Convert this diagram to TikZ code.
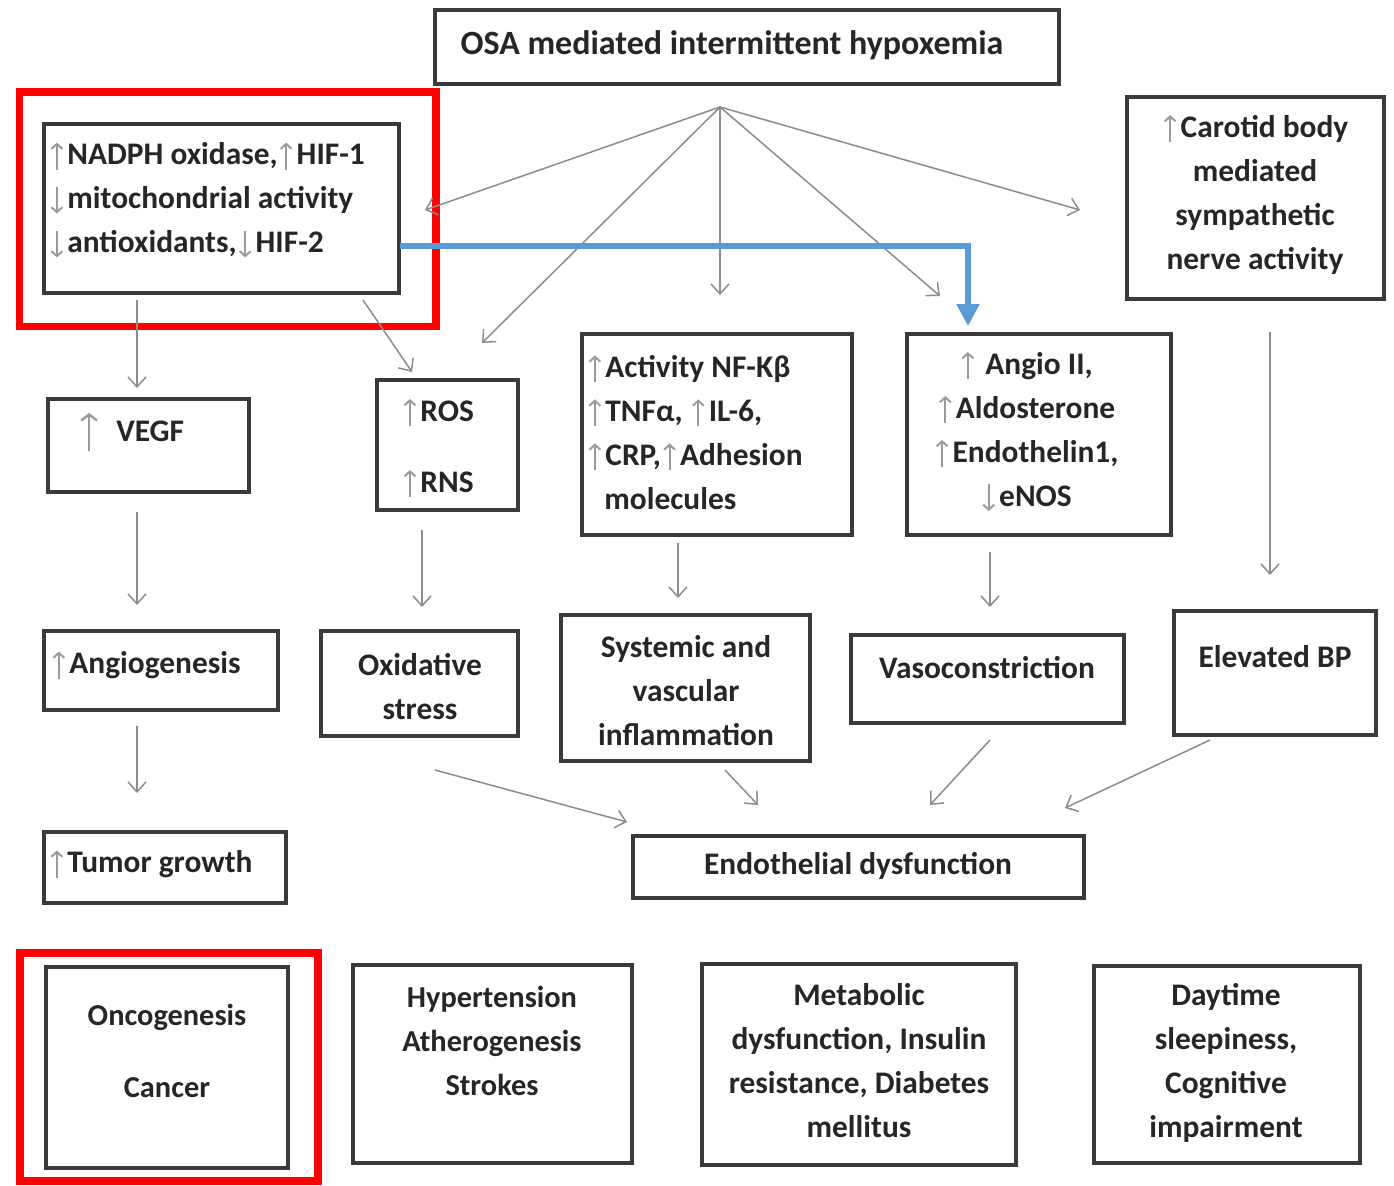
\documentclass[tikz,border=0pt]{standalone}
\usepackage{fontspec}
\setmainfont{Carlito}
\usetikzlibrary{arrows.meta}
\definecolor{boxc}{HTML}{3A3A3A}
\definecolor{txtc}{HTML}{262626}
\definecolor{arrc}{HTML}{8C8C8C}
\definecolor{glyc}{HTML}{9A9A9A}
\definecolor{bluec}{HTML}{5B9BD5}
\newcommand\up{\hspace{1pt}\tikz[baseline=0pt]\draw[draw=glyc,line width=1pt,-{Straight Barb[length=2.5pt,width=5.5pt]}](0,-2.5pt)--(0,11pt);\hspace{2pt}}
\newcommand\dn{\hspace{1pt}\tikz[baseline=0pt]\draw[draw=glyc,line width=1pt,-{Straight Barb[length=2.5pt,width=5.5pt]}](0,11pt)--(0,-2.5pt);\hspace{2pt}}
\newcommand\bigup{\hspace{1pt}\tikz[baseline=0pt]\draw[draw=glyc,line width=1.2pt,-{Straight Barb[length=3pt,width=8pt]}](0,-5pt)--(0,14pt);\hspace{2pt}}
\tikzset{
  box/.style={draw=boxc,line width=2.2pt,rectangle,inner sep=0pt},
  redbox/.style={draw=red,line width=3.8pt,rectangle,inner sep=0pt},
  txt/.style={font=\fontsize{15.7}{22}\selectfont\bfseries,text=txtc,inner sep=0pt,align=center},
  txtr/.style={font=\fontsize{15.2}{22}\selectfont\bfseries,text=txtc,inner sep=0pt,align=center},
  conn/.style={draw=arrc,line width=0.75pt,-{Straight Barb[length=5pt,width=9pt]}},
  blueconn/.style={draw=bluec,line width=2.6pt,-{Triangle[length=11pt,width=11pt]}}
}
\begin{document}
\begin{tikzpicture}[x=0.5pt,y=-0.5pt]
\useasboundingbox (0,0) rectangle (1394,1185);
% red highlight frames
\node[redbox,minimum width=208.25pt,minimum height=117.25pt] (red1) at (227.75,209.25) {};
\node[redbox,minimum width=149pt,minimum height=114pt] (red2) at (169,1067) {};
% boxes
\node[box,minimum width=312pt,minimum height=37pt] (osa) at (747,47) {};
\node[box,minimum width=177.5pt,minimum height=84.5pt] (nadph) at (221.5,208.5) {};
\node[box,minimum width=128.5pt,minimum height=101pt] (carotid) at (1255.5,198) {};
\node[box,minimum width=100.5pt,minimum height=46.5pt] (vegf) at (148.5,445.5) {};
\node[box,minimum width=70.5pt,minimum height=65pt] (ros) at (447.5,445) {};
\node[box,minimum width=135pt,minimum height=100.5pt] (nfkb) at (717,434.5) {};
\node[box,minimum width=132pt,minimum height=100.5pt] (angio) at (1039,434.5) {};
\node[box,minimum width=117pt,minimum height=39.5pt] (angiog) at (161,670.5) {};
\node[box,minimum width=98.5pt,minimum height=52.5pt] (oxid) at (419.5,683.5) {};
\node[box,minimum width=124.5pt,minimum height=73pt] (syst) at (685.5,688) {};
\node[box,minimum width=136.5pt,minimum height=44pt] (vaso) at (987.5,679) {};
\node[box,minimum width=101pt,minimum height=62pt] (bp) at (1275,673) {};
\node[box,minimum width=121pt,minimum height=35.5pt] (tumor) at (165,867.5) {};
\node[box,minimum width=225.5pt,minimum height=31pt] (endo) at (858.5,867) {};
\node[box,minimum width=121pt,minimum height=100.5pt] (onco) at (167,1067.5) {};
\node[box,minimum width=139.5pt,minimum height=99pt] (hyper) at (492.5,1064) {};
\node[box,minimum width=157pt,minimum height=100.5pt] (metab) at (859,1064.5) {};
\node[box,minimum width=133pt,minimum height=98.5pt] (day) at (1227,1064.5) {};
% texts
\node[txt,font=\fontsize{17}{22}\selectfont\bfseries] (osa-t) at (732,45) {OSA mediated intermittent hypoxemia};
\node[txt,anchor=west,align=left] (nadph-t) at (48,200) {\up NADPH oxidase,\up HIF-1\\\dn mitochondrial activity\\\dn antioxidants,\dn HIF-2};
\node[txt] (carotid-t) at (1255,194) {\up Carotid body\\mediated\\sympathetic\\nerve activity};
\node[txt] (vegf-t) at (131,432) {\bigup\hspace{7pt}VEGF};
\node[txt,anchor=west,align=left] (ros-t) at (401,448) {\up ROS\\[13.5pt]\up RNS};
\node[txt,anchor=west,align=left] (nfkb-t) at (586,432) {\up Activity NF-Kβ\\\up TNFα, \up IL-6,\\\up CRP,\up Adhesion\\\hspace{9pt}molecules};
\node[txt] (angio-t) at (1026,431.5) {\up\ Angio II,\\\up Aldosterone\\\up Endothelin1,\\\dn eNOS};
\node[txt,anchor=west] (angiog-t) at (50,665) {\up Angiogenesis};
\node[txt] (oxid-t) at (420,687) {Oxidative\\stress};
\node[txt] (syst-t) at (686,691) {Systemic and\\vascular\\inflammation};
\node[txt] (vaso-t) at (987,668) {Vasoconstriction};
\node[txt] (bp-t) at (1275,657) {Elevated BP};
\node[txt,anchor=west] (tumor-t) at (48,864) {\up Tumor growth};
\node[txt] (endo-t) at (858,866) {Endothelial dysfunction};
\node[txtr] (onco-t) at (167,1051) {Oncogenesis\\[14pt]Cancer};
\node[txtr] (hyper-t) at (492,1041) {Hypertension\\Atherogenesis\\Strokes};
\node[txt] (metab-t) at (859,1061) {Metabolic\\dysfunction, Insulin\\resistance, Diabetes\\mellitus};
\node[txt] (day-t) at (1226,1063) {Daytime\\sleepiness,\\Cognitive\\impairment};
% connector ends
\coordinate (hub) at (720,107);
\coordinate (h1) at (425,210);
\coordinate (h2) at (482,343);
\coordinate (h3) at (720,295);
\coordinate (h4) at (940,296);
\coordinate (h5) at (1080,210);
\coordinate (n1) at (137,300); \coordinate (v0) at (137,388);
\coordinate (n2) at (363,300); \coordinate (r0) at (412,372);
\coordinate (v1) at (137,512); \coordinate (ag0) at (137,605);
\coordinate (ag1) at (137,726); \coordinate (tu0) at (137,793);
\coordinate (r1) at (422,530); \coordinate (ox0) at (422,607);
\coordinate (nf1) at (678,543); \coordinate (sy0) at (678,598);
\coordinate (an1) at (990,552); \coordinate (va0) at (990,607);
\coordinate (ca1) at (1270,332); \coordinate (bp0) at (1270,575);
\coordinate (ox1) at (435,770); \coordinate (en1) at (627,822);
\coordinate (sy1) at (725,770); \coordinate (en2) at (758,805);
\coordinate (va1) at (990,740); \coordinate (en3) at (930,805);
\coordinate (bp1) at (1210,740); \coordinate (en4) at (1065,808);
\coordinate (bl0) at (400,246); \coordinate (bl1) at (968,246); \coordinate (bl2) at (968,326);
% connectors
\draw[conn] (hub) -- (h1);
\draw[conn] (hub) -- (h2);
\draw[conn] (hub) -- (h3);
\draw[conn] (hub) -- (h4);
\draw[conn] (hub) -- (h5);
\draw[conn] (n1) -- (v0);
\draw[conn] (n2) -- (r0);
\draw[conn] (v1) -- (ag0);
\draw[conn] (ag1) -- (tu0);
\draw[conn] (r1) -- (ox0);
\draw[conn] (nf1) -- (sy0);
\draw[conn] (an1) -- (va0);
\draw[conn] (ca1) -- (bp0);
\draw[conn] (ox1) -- (en1);
\draw[conn] (sy1) -- (en2);
\draw[conn] (va1) -- (en3);
\draw[conn] (bp1) -- (en4);
\draw[blueconn] (bl0) -- (bl1) -- (bl2);
\end{tikzpicture}
\end{document}
